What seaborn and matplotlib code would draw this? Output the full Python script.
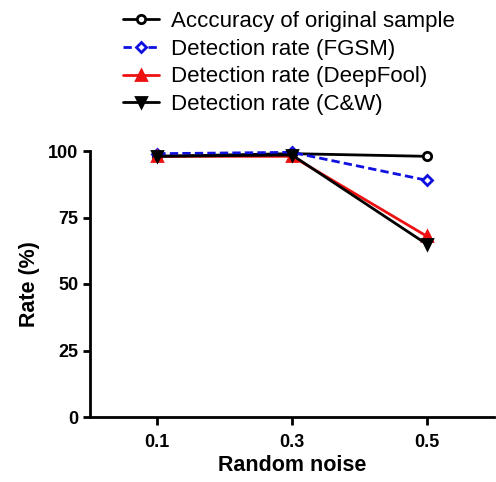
import matplotlib
matplotlib.use("Agg")
import matplotlib.pyplot as plt
import pandas as pd
import seaborn as sns

# data
noise = [0.1, 0.3, 0.5]
acc_original = [98, 99, 98]
det_fgsm = [99, 99.5, 89]
det_deepfool = [98, 98, 68]
det_cw = [98, 98.5, 65]

series = ["Acccuracy of original sample", "Detection rate (FGSM)",
          "Detection rate (DeepFool)", "Detection rate (C&W)"]

df = pd.DataFrame({
    "noise": noise * 4,
    "rate": acc_original + det_fgsm + det_deepfool + det_cw,
    "series": [s for s in series for _ in noise],
})

sns.set_style("ticks", {"text.color": "black", "axes.labelcolor": "black",
                        "xtick.color": "black", "ytick.color": "black",
                        "axes.edgecolor": "black"})
plt.rcParams["font.family"] = ["Liberation Sans", "DejaVu Sans"]

fig = plt.figure(figsize=(4.96, 4.82), dpi=100)
ax = fig.add_axes([90 / 496, 65 / 482, 404 / 496, 266 / 482])

styles = {
    series[0]: dict(color="black", marker="o", mfc="white", ls="-", ms=6),
    series[1]: dict(color="#1010e0", marker="D", mfc="white", ls=(0, (3, 1.5)), ms=5.5),
    series[2]: dict(color="#ee1111", marker="^", mfc="#ee1111", ls="-", ms=6.5),
    series[3]: dict(color="black", marker="v", mfc="black", ls="-", ms=6.5),
}

for s in series:
    st = styles[s]
    sns.lineplot(data=df[df["series"] == s], x="noise", y="rate", ax=ax,
                 color=st["color"], marker=st["marker"], markerfacecolor=st["mfc"],
                 markeredgecolor=st["color"], markeredgewidth=2, markersize=st["ms"],
                 linestyle=st["ls"], linewidth=2, label=s, clip_on=False)

ax.set_xlim(0.0, 0.6)
ax.set_ylim(0, 100)
ax.set_xticks(noise)
ax.set_xticklabels(["0.1", "0.3", "0.5"])
ax.set_yticks([0, 25, 50, 75, 100])
ax.tick_params(width=2, length=5, labelsize=13)
ax.tick_params(axis="x", length=6, pad=6)
for lab in ax.get_xticklabels() + ax.get_yticklabels():
    lab.set_fontweight("bold")
for sp in ["left", "bottom"]:
    ax.spines[sp].set_linewidth(2)
sns.despine(ax=ax)

ax.set_xlabel("Random noise", fontsize=15.5, fontweight="bold", labelpad=3)
ax.set_ylabel("Rate (%)", fontsize=15.5, fontweight="bold", labelpad=6)

handles, labels = ax.get_legend_handles_labels()
ax.legend(handles, labels, loc="upper left", bbox_to_anchor=(112 / 496, 1.0),
          bbox_transform=fig.transFigure, frameon=False, fontsize=16,
          handlelength=1.6, handletextpad=0.55, labelspacing=0.3, borderaxespad=0.1)

fig.savefig("out.png", dpi=100)
